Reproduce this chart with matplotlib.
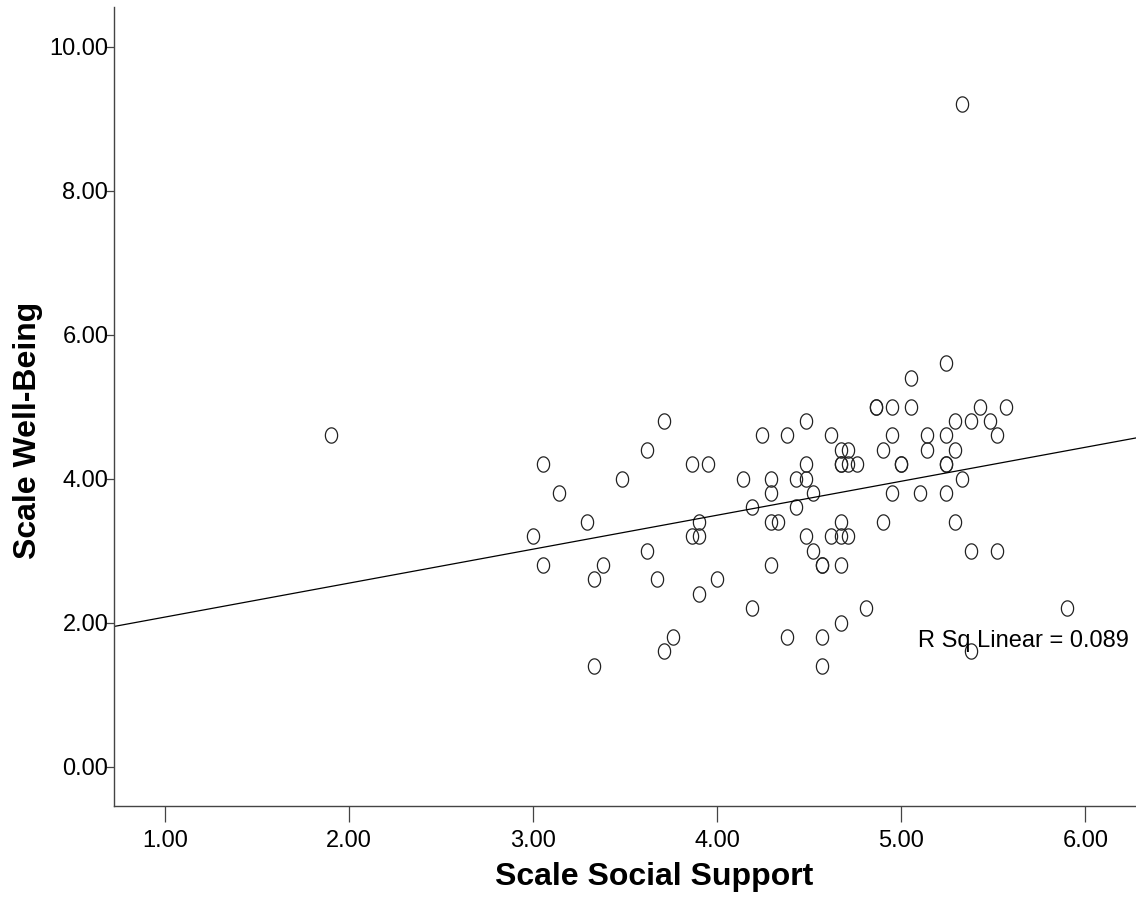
import numpy as np
import matplotlib.pyplot as plt

plt.rcParams['font.family'] = ['Liberation Sans', 'DejaVu Sans']

# Scale Social Support (x) / Scale Well-Being (y)
social_support = [
    1.90, 3.05, 3.62, 3.86, 3.48, 3.14, 3.29, 3.00, 3.86, 3.62,
    3.05, 3.38, 3.33, 3.67, 3.76, 3.71, 3.33, 3.71,
    5.24, 5.05, 4.86, 4.86, 4.95, 5.05, 5.43, 5.57,
    4.48, 5.29, 5.38, 5.48,
    4.24, 4.38, 4.62, 4.95, 5.14, 5.24, 5.52,
    4.67, 4.71, 4.90, 5.14, 5.29,
    3.95, 4.48, 4.67, 4.67, 4.71, 4.76, 5.00, 5.00, 5.24, 5.24,
    4.14, 4.29, 4.43, 4.48, 5.33,
    4.29, 4.52, 4.95, 5.10, 5.24,
    4.19, 4.43,
    3.90, 4.29, 4.33, 4.67, 4.90, 5.29,
    3.90, 4.48, 4.62, 4.67, 4.71,
    4.52, 5.38, 5.52,
    4.29, 4.57, 4.57, 4.67,
    4.00, 3.90,
    4.19, 4.81, 5.90,
    4.67,
    4.38, 4.57,
    5.38, 4.57,
    5.33,
]
well_being = [
    4.6, 4.2, 4.4, 4.2, 4.0, 3.8, 3.4, 3.2, 3.2, 3.0,
    2.8, 2.8, 2.6, 2.6, 1.8, 1.6, 1.4, 4.8,
    5.6, 5.4, 5.0, 5.0, 5.0, 5.0, 5.0, 5.0,
    4.8, 4.8, 4.8, 4.8,
    4.6, 4.6, 4.6, 4.6, 4.6, 4.6, 4.6,
    4.4, 4.4, 4.4, 4.4, 4.4,
    4.2, 4.2, 4.2, 4.2, 4.2, 4.2, 4.2, 4.2, 4.2, 4.2,
    4.0, 4.0, 4.0, 4.0, 4.0,
    3.8, 3.8, 3.8, 3.8, 3.8,
    3.6, 3.6,
    3.4, 3.4, 3.4, 3.4, 3.4, 3.4,
    3.2, 3.2, 3.2, 3.2, 3.2,
    3.0, 3.0, 3.0,
    2.8, 2.8, 2.8, 2.8,
    2.6, 2.4,
    2.2, 2.2, 2.2,
    2.0,
    1.8, 1.8,
    1.6, 1.4,
    9.2,
]
x_ticks = [1, 2, 3, 4, 5, 6]
y_ticks = [0, 2, 4, 6, 8, 10]

x = np.array(social_support)
y = np.array(well_being)

fig = plt.figure(figsize=(11.36, 8.99), dpi=100)
ax = fig.add_axes([0.1006, 0.1034, 0.8994, 0.8888])

# slightly tall ellipse, like the SPSS circle marker
t = np.linspace(0, 2 * np.pi, 60)
ell = np.column_stack([0.8 * np.cos(t), np.sin(t)])
ax.plot(x, y, linestyle='none', marker=ell, markersize=11,
        markerfacecolor='none', markeredgecolor='#222222', markeredgewidth=0.9)

xlim = (0.723, 6.275)
slope, icpt = np.polyfit(x, y, 1)
xs = np.array(xlim)
ax.plot(xs, icpt + slope * xs, color='black', lw=0.9)

ax.set_xlim(*xlim)
ax.set_ylim(-0.549, 10.55)
ax.set_xticks(x_ticks)
ax.set_yticks(y_ticks)
ax.set_xticklabels([f'{v:.2f}' for v in x_ticks])
ax.set_yticklabels([f'{v:.2f}' for v in y_ticks])

for s in ['top', 'right']:
    ax.spines[s].set_visible(False)
for s in ['left', 'bottom']:
    ax.spines[s].set_color('#444444')
    ax.spines[s].set_linewidth(1.0)

ax.tick_params(axis='x', direction='out', length=11.5, width=0.9, color='#444444',
               pad=5.5, labelsize=17)
ax.tick_params(axis='y', direction='out', length=5.8, width=0.9, color='#444444',
               pad=-1.5, labelsize=17)

r2 = np.corrcoef(x, y)[0, 1] ** 2
ax.text(5.09, 1.74, 'R Sq Linear = 0.089', fontsize=17, ha='left', va='center')
print('fit', slope, icpt, r2)

fig.text(28 / 1136, 1 - 430 / 899, 'Scale Well-Being', rotation=90,
         ha='center', va='center', fontsize=23, fontweight='bold')
fig.text(654 / 1136, 1 - 877 / 899, 'Scale Social Support',
         ha='center', va='center', fontsize=23, fontweight='bold')

fig.savefig('out.png', dpi=100)
